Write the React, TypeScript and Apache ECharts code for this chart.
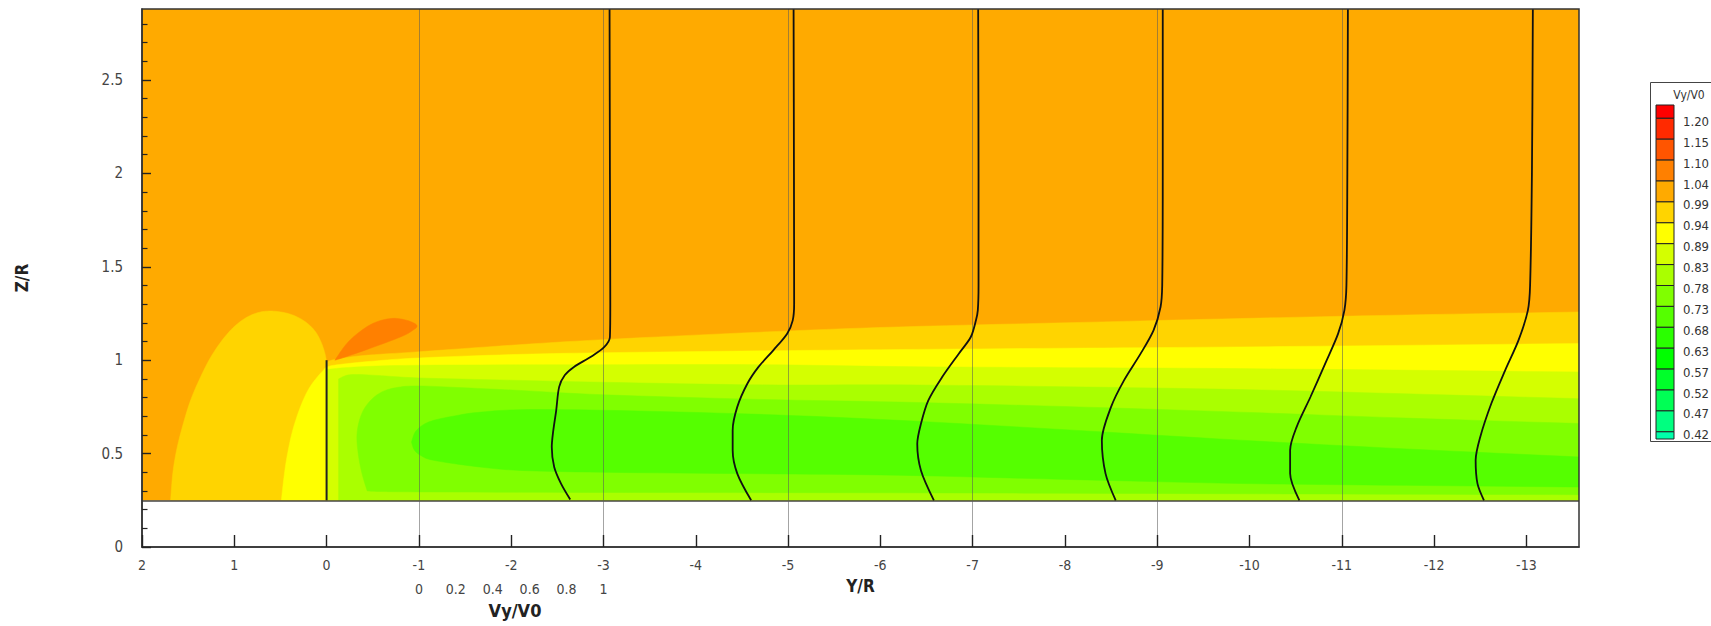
import React, { useEffect, useRef } from "react";
import * as echarts from "echarts";

// ---------- axes ----------
const Y_MIN = -13.57;
const Y_MAX = 2;
const Z_MAX = 2.88;
const GROUND_Z = 0.25;
const X_TICKS = [2, 1, 0, -1, -2, -3, -4, -5, -6, -7, -8, -9, -10, -11, -12, -13];
const Z_TICKS = [0, 0.5, 1, 1.5, 2, 2.5];
const Z_MINOR_TICKS = [0.1, 0.2, 0.3, 0.4, 0.6, 0.7, 0.8, 0.9, 1.1, 1.2, 1.3, 1.4, 1.6, 1.7, 1.8, 1.9, 2.1, 2.2, 2.3, 2.4, 2.6, 2.7, 2.8];
const VY_TICKS = [0, 0.2, 0.4, 0.6, 0.8, 1];

// ---------- colour levels (legend, top to bottom) ----------
const LEVEL_LABELS = ["1.20", "1.15", "1.10", "1.04", "0.99", "0.94", "0.89", "0.83", "0.78", "0.73", "0.68", "0.63", "0.57", "0.52", "0.47", "0.42"];
const LEVEL_COLORS = ["#FF0000", "#FF2A00", "#FF5500", "#FF8000", "#FFAA00", "#FFD400", "#FFFF00", "#D4FF00", "#AAFF00", "#80FF00", "#55FF00", "#2AFF00", "#00FF00", "#00FF2A", "#00FF55", "#00FF80", "#00FFAA"];

// ---------- contour boundaries [Y/R, Z/R] ----------
const GOLD_FRONT = [[1.69, 0.25], [1.665, 0.4], [1.62, 0.53], [1.55, 0.665], [1.47, 0.79], [1.37, 0.905], [1.26, 1.012], [1.13, 1.108], [1.0, 1.18], [0.87, 1.228], [0.74, 1.255], [0.61, 1.263], [0.46, 1.255], [0.33, 1.234], [0.21, 1.198], [0.12, 1.152], [0.06, 1.097], [0.02, 1.04], [0, 0.99]];
const YELLOW_FRONT = [[0.49, 0.25], [0.46, 0.38], [0.43, 0.48], [0.38, 0.6], [0.32, 0.7], [0.25, 0.79], [0.18, 0.857], [0.1, 0.91], [0.035, 0.946]];
const U1 = [[0, 0.99], [-0.1, 1.005], [-0.4, 1.025], [-1, 1.045], [-2, 1.08], [-3, 1.11], [-4.7, 1.15], [-6.2, 1.178], [-8.4, 1.205], [-9.9, 1.223], [-11.7, 1.242], [-13.57, 1.258]];
const U2 = [[0, 0.962], [-0.11, 0.975], [-0.5, 0.995], [-1, 1.012], [-2, 1.03], [-3, 1.04], [-4.7, 1.05], [-6.2, 1.057], [-8, 1.064], [-9.9, 1.071], [-13.57, 1.089]];
const U3 = [[0, 0.95], [-0.3, 0.963], [-1, 0.973], [-3, 0.976], [-4.7, 0.976], [-6.2, 0.966], [-8, 0.96], [-9.9, 0.955], [-13.57, 0.937]];
const U4 = [[-0.13, 0.9], [-0.25, 0.922], [-0.5, 0.92], [-1, 0.905], [-2, 0.893], [-3, 0.882], [-4.7, 0.868], [-6.2, 0.868], [-8, 0.858], [-9.9, 0.843], [-11.7, 0.82], [-13.57, 0.794]];
const U5 = [[-0.44, 0.3], [-0.38, 0.4], [-0.34, 0.51], [-0.33, 0.607], [-0.37, 0.7], [-0.45, 0.77], [-0.58, 0.825], [-0.75, 0.853], [-1, 0.862], [-1.5, 0.852], [-2.1, 0.838], [-3, 0.815], [-4.7, 0.79], [-6.2, 0.776], [-8, 0.752], [-9.9, 0.722], [-11.7, 0.69], [-13.57, 0.661]];
const L5 = [[-13.57, 0.28], [-9.9, 0.285], [-6.2, 0.29], [-3, 0.292], [-1, 0.295], [-0.6, 0.297], [-0.44, 0.3]];
const U6 = [[-0.92, 0.562], [-0.96, 0.615], [-1.04, 0.652], [-1.16, 0.678], [-1.4, 0.703], [-1.63, 0.72], [-2.1, 0.735], [-3, 0.732], [-4.7, 0.71], [-6.2, 0.678], [-8, 0.628], [-9.9, 0.572], [-11.7, 0.525], [-13.57, 0.482]];
const L6 = [[-13.57, 0.321], [-11.7, 0.33], [-9.9, 0.34], [-8, 0.362], [-6.2, 0.384], [-4.7, 0.392], [-3, 0.4], [-2.1, 0.41], [-1.63, 0.43], [-1.16, 0.464], [-1.02, 0.49], [-0.95, 0.52], [-0.92, 0.562]];
const TIP_LOBE = [[-0.09, 1.0], [-0.22, 1.09], [-0.38, 1.16], [-0.54, 1.205], [-0.72, 1.224], [-0.88, 1.212], [-0.98, 1.185], [-0.92, 1.155], [-0.8, 1.124], [-0.51, 1.07], [-0.22, 1.02], [-0.09, 1.0]];

// ---------- rotor ----------
const ROTOR = [[0, 0.25], [0, 1.0]];

// ---------- velocity profiles [Z/R, Vy/V0] ----------
const PROFILE_BASES = [-1, -3, -5, -7, -9, -11];
const PROFILE_SCALE = 2; // Y/R units per unit of Vy/V0
const PROFILE_1 = [[0.254, 0.82], [0.339, 0.77], [0.428, 0.733], [0.535, 0.72], [0.607, 0.726], [0.732, 0.744], [0.857, 0.76], [0.919, 0.79], [0.964, 0.84], [1.017, 0.93], [1.071, 1.005], [1.124, 1.035], [1.3, 1.037], [2.0, 1.035], [2.88, 1.033]];
const PROFILE_2 = [[0.25, 0.8], [0.393, 0.725], [0.518, 0.7], [0.625, 0.7], [0.75, 0.725], [0.875, 0.78], [0.964, 0.84], [1.053, 0.92], [1.142, 0.995], [1.212, 1.025], [1.3, 1.033], [2.0, 1.032], [2.88, 1.03]];
const PROFILE_3 = [[0.25, 0.79], [0.41, 0.72], [0.553, 0.7], [0.66, 0.72], [0.785, 0.76], [0.91, 0.835], [1.035, 0.925], [1.124, 0.99], [1.214, 1.018], [1.267, 1.028], [1.4, 1.032], [2.0, 1.032], [2.88, 1.03]];
const PROFILE_4 = [[0.25, 0.775], [0.393, 0.72], [0.571, 0.7], [0.75, 0.75], [0.892, 0.82], [1.035, 0.91], [1.16, 0.98], [1.285, 1.018], [1.4, 1.027], [2.0, 1.03], [2.88, 1.03]];
const PROFILE_5 = [[0.25, 0.77], [0.393, 0.72], [0.518, 0.72], [0.642, 0.755], [0.803, 0.83], [0.982, 0.91], [1.142, 0.98], [1.267, 1.014], [1.4, 1.025], [2.0, 1.03], [2.88, 1.033]];
const PROFILE_6 = [[0.25, 0.77], [0.339, 0.735], [0.464, 0.725], [0.589, 0.75], [0.768, 0.81], [0.946, 0.885], [1.106, 0.957], [1.267, 1.008], [1.4, 1.02], [2.0, 1.03], [2.88, 1.035]];
const PROFILES = [PROFILE_1, PROFILE_2, PROFILE_3, PROFILE_4, PROFILE_5, PROFILE_6];

// ---------- bands (drawn in order) ----------
type Part = { c?: number[][]; p?: number[][] };
type Band = { color: string; parts: Part[] };
const BANDS: Band[] = [
  { color: LEVEL_COLORS[4], parts: [{ p: [[Y_MAX, GROUND_Z], [Y_MAX, Z_MAX], [Y_MIN, Z_MAX], [Y_MIN, GROUND_Z]] }] },
  { color: LEVEL_COLORS[5], parts: [{ c: GOLD_FRONT }, { p: [[0, GROUND_Z]] }] },
  { color: LEVEL_COLORS[5], parts: [{ c: U1 }, { p: [[Y_MIN, GROUND_Z], [0, GROUND_Z]] }] },
  { color: LEVEL_COLORS[3], parts: [{ c: TIP_LOBE }] },
  { color: LEVEL_COLORS[6], parts: [{ c: YELLOW_FRONT.concat(U2) }, { p: [[Y_MIN, GROUND_Z]] }] },
  { color: LEVEL_COLORS[7], parts: [{ p: [[0, GROUND_Z]] }, { c: U3 }, { p: [[Y_MIN, GROUND_Z]] }] },
  { color: LEVEL_COLORS[8], parts: [{ p: [[-0.13, GROUND_Z]] }, { c: U4 }, { p: [[Y_MIN, GROUND_Z]] }] },
  { color: LEVEL_COLORS[9], parts: [{ c: U5 }, { c: L5 }] },
  { color: LEVEL_COLORS[10], parts: [{ c: U6 }, { c: L6 }] },
];

const FONT = "'Liberation Sans Narrow', 'Arial Narrow', 'DejaVu Sans Condensed', 'Liberation Sans', sans-serif";

function catmull(pts: number[][], n: number): number[][] {
  const out: number[][] = [];
  for (let i = 0; i < pts.length - 1; i++) {
    const p0 = pts[i - 1] || pts[i];
    const p1 = pts[i];
    const p2 = pts[i + 1];
    const p3 = pts[i + 2] || pts[i + 1];
    for (let k = 0; k < n; k++) {
      const t = k / n;
      const t2 = t * t;
      const t3 = t2 * t;
      const f = (a: number, b: number, c: number, d: number) =>
        0.5 * (2 * b + (-a + c) * t + (2 * a - 5 * b + 4 * c - d) * t2 + (-a + 3 * b - 3 * c + d) * t3);
      out.push([f(p0[0], p1[0], p2[0], p3[0]), f(p0[1], p1[1], p2[1], p3[1])]);
    }
  }
  out.push(pts[pts.length - 1]);
  return out;
}

const tickOnlyAxis = (extra: any) => ({
  type: "value",
  z: 20,
  axisLine: { show: false, onZero: false },
  axisLabel: { show: false },
  splitLine: { show: false },
  ...extra,
});

export default function App() {
  const ref = useRef<HTMLDivElement>(null);
  useEffect(() => {
    if (!ref.current) return;
    const chart = echarts.init(ref.current, null, { renderer: "svg" });

    const vLeft = (PROFILE_BASES[0] - Y_MAX) / PROFILE_SCALE;
    const vRight = (PROFILE_BASES[0] - Y_MIN) / PROFILE_SCALE;

    const legendTop = 105;
    const firstH = 13.3;
    const step = 20.9;
    const legendEls: any[] = [
      { type: "rect", shape: { x: 1650.5, y: 82.5, width: 90, height: 359 }, style: { fill: "#fff", stroke: "#444", lineWidth: 1 } },
      { type: "text", x: 1689, y: 95, style: { text: "Vy/V0", fontSize: 12, fontFamily: FONT, fill: "#333", align: "center", verticalAlign: "middle" } },
    ];
    LEVEL_COLORS.forEach((col, i) => {
      const y0 = i === 0 ? legendTop : legendTop + firstH + (i - 1) * step;
      const h = i === 0 ? firstH : i === LEVEL_COLORS.length - 1 ? 441 - y0 - 2 : step;
      legendEls.push({ type: "rect", shape: { x: 1656, y: y0, width: 18, height: h }, style: { fill: col, stroke: "#222", lineWidth: 1 } });
    });
    LEVEL_LABELS.forEach((lab, i) => {
      const yb = legendTop + firstH + i * step;
      legendEls.push({ type: "text", x: 1683, y: yb + 3, style: { text: lab, fontSize: 13, fontFamily: FONT, fill: "#333", align: "left", verticalAlign: "middle" } });
    });
    legendEls.push({ type: "text", x: 515, y: 610, style: { text: "Vy/V0", fontSize: 18, fontWeight: "bold", fontFamily: FONT, fill: "#222", align: "center", verticalAlign: "middle" } });

    const option: any = {
      animation: false,
      backgroundColor: "#fff",
      grid: { left: 142, right: 132, top: 9, bottom: 79, show: true, borderColor: "#333", borderWidth: 1.5, z: 20, backgroundColor: "transparent" },
      xAxis: [
        {
          type: "value", min: Y_MIN, max: Y_MAX, inverse: true, position: "bottom", z: 20,
          axisLine: { show: true, onZero: false, lineStyle: { color: "#333", width: 1.5 } },
          axisTick: { show: false },
          axisLabel: { customValues: X_TICKS, margin: 11, color: "#444", fontSize: 14, fontFamily: FONT },
          splitLine: { show: false },
          name: "Y/R", nameLocation: "middle", nameGap: 30,
          nameTextStyle: { fontSize: 17, fontWeight: "bold", fontFamily: FONT, color: "#222" },
        },
        {
          type: "value", min: vLeft, max: vRight, position: "bottom", offset: 24, z: 20,
          axisLine: { show: false, onZero: false }, axisTick: { show: false }, splitLine: { show: false },
          axisLabel: { customValues: VY_TICKS, margin: 11, color: "#444", fontSize: 14, fontFamily: FONT },
        },
        tickOnlyAxis({
          min: Y_MIN, max: Y_MAX, inverse: true, position: "bottom", offset: 0,
          axisTick: { show: true, inside: true, length: 12, customValues: X_TICKS, lineStyle: { color: "#222", width: 1.4 } },
        }),
      ],
      yAxis: [
        {
          type: "value", min: 0, max: Z_MAX, position: "left", z: 20,
          axisLine: { show: true, onZero: false, lineStyle: { color: "#333", width: 1.5 } },
          axisTick: { show: false },
          axisLabel: { customValues: Z_TICKS, margin: 19, color: "#444", fontSize: 15, fontFamily: FONT },
          splitLine: { show: false },
          name: "Z/R", nameLocation: "middle", nameRotate: 90, nameGap: 112,
          nameTextStyle: { fontSize: 17, fontWeight: "bold", fontFamily: FONT, color: "#222" },
        },
        tickOnlyAxis({
          min: 0, max: Z_MAX, position: "left", offset: 0,
          axisTick: { show: true, inside: true, length: 9, customValues: Z_TICKS, lineStyle: { color: "#222", width: 1.4 } },
        }),
        tickOnlyAxis({
          min: 0, max: Z_MAX, position: "left", offset: 0,
          axisTick: { show: true, inside: true, length: 5.5, customValues: Z_MINOR_TICKS, lineStyle: { color: "#222", width: 1.2 } },
        }),
      ],
      graphic: legendEls,
      series: [
        {
          type: "custom", name: "Vy/V0 contours", clip: true, z: 1, silent: true,
          data: BANDS.map((_, i) => [0, 1, i]),
          renderItem: (params: any, api: any) => {
            const band = BANDS[params.dataIndex];
            let pts: number[][] = [];
            band.parts.forEach((part) => {
              if (part.c) pts = pts.concat(catmull(part.c.map((d) => api.coord(d)), 8));
              if (part.p) pts = pts.concat(part.p.map((d) => api.coord(d)));
            });
            return { type: "polygon", shape: { points: pts }, style: { fill: band.color, stroke: band.color, lineWidth: 0.5 } };
          },
        },
        {
          type: "line", name: "rotor", data: ROTOR, showSymbol: false, z: 6, silent: true,
          lineStyle: { color: "#222", width: 2 },
          markLine: {
            silent: true, symbol: ["none", "none"], label: { show: false }, z: 4,
            data: [
              { yAxis: GROUND_Z, lineStyle: { color: "#444", width: 1.5, type: "solid" } },
              ...PROFILE_BASES.map((b) => ({ xAxis: b, lineStyle: { color: "rgba(90,90,90,0.55)", width: 1, type: "solid" } })),
            ],
          },
        },
        ...PROFILES.map((prof, i) => ({
          type: "line", name: "profile " + (i + 1), showSymbol: false, smooth: 0.3, z: 6, silent: true,
          lineStyle: { color: "#111", width: 1.8 },
          data: prof.map(([z, v]) => [PROFILE_BASES[i] - PROFILE_SCALE * v, z]),
        })),
      ],
    };
    chart.setOption(option);
    return () => chart.dispose();
  }, []);
  return <div ref={ref} style={{ position: "absolute", left: 0, top: 0, width: 1711, height: 626 }} />;
}
